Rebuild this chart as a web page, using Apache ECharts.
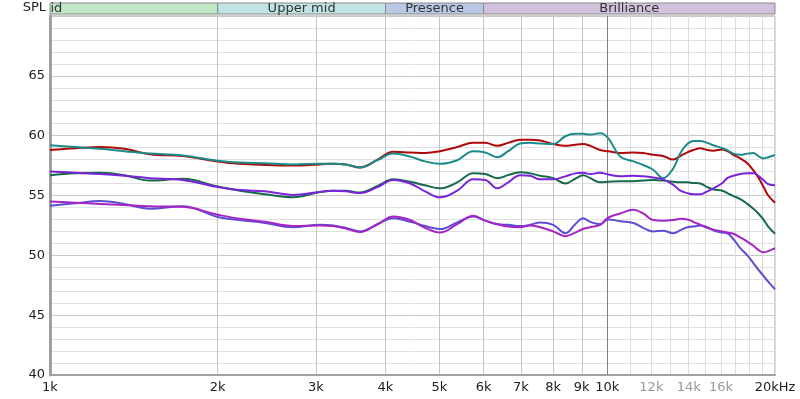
<!DOCTYPE html>
<html>
<head>
<meta charset="utf-8">
<script src="https://cdn.jsdelivr.net/npm/echarts@6/dist/echarts.min.js"></script>
<style>
  html, body { margin: 0; padding: 0; background: #fff; }
  #grafico { width: 800px; height: 399px; }
</style>
</head>
<body>
<div id="grafico"></div>
<script>
// frequencies (Hz) shared by all curves
var freqs = [1000, 1110, 1230, 1360, 1510, 1730, 2000, 2190, 2430, 2730, 3050, 3220, 3390, 3600, 3870,
  4130, 4430, 4710, 5010, 5380, 5750, 6040, 6350, 6640, 6980, 7270, 7580, 8000, 8410, 8760, 9050,
  9320, 9710, 10040, 10550, 11140, 11600, 12090, 12600, 13130, 13530, 13920, 14270, 14690, 15120,
  15500, 16090, 16420, 16840, 17330, 17840, 18290, 18670, 19060, 19450, 20000];

var rojo = [58.8, 58.95, 59.05, 58.9, 58.45, 58.3, 57.85, 57.65, 57.55, 57.5, 57.6, 57.65, 57.6, 57.35, 58.0,
  58.65, 58.6, 58.55, 58.7, 59.05, 59.4, 59.4, 59.15, 59.4, 59.65, 59.65, 59.6, 59.3, 59.15, 59.25, 59.3,
  59.15, 58.8, 58.7, 58.55, 58.6, 58.55, 58.4, 58.3, 58.0, 58.3, 58.6, 58.8, 58.95, 58.8,
  58.75, 58.85, 58.7, 58.4, 58.1, 57.7, 57.1, 56.5, 55.75, 55.0, 54.4];

var teal = [59.2, 59.05, 58.9, 58.7, 58.5, 58.35, 57.9, 57.75, 57.7, 57.6, 57.65, 57.65, 57.6, 57.35, 57.95,
  58.5, 58.25, 57.85, 57.65, 57.95, 58.7, 58.6, 58.2, 58.7, 59.35, 59.4, 59.35, 59.3, 59.95, 60.15, 60.15,
  60.1, 60.2, 59.8, 58.25, 57.85, 57.55, 57.15, 56.45, 57.25, 58.55, 59.3, 59.55, 59.55, 59.4,
  59.2, 58.95, 58.8, 58.5, 58.4, 58.5, 58.55, 58.3, 58.1, 58.2, 58.4];

var verde = [56.7, 56.85, 56.9, 56.7, 56.25, 56.4, 55.75, 55.4, 55.1, 54.85, 55.3, 55.4, 55.4, 55.25, 55.8,
  56.35, 56.15, 55.85, 55.6, 56.1, 56.85, 56.8, 56.45, 56.7, 56.95, 56.85, 56.65, 56.45, 56.0, 56.4, 56.7,
  56.45, 56.1, 56.15, 56.2, 56.2, 56.25, 56.3, 56.25, 56.15, 56.1, 56.1, 56.05, 56.0, 55.7,
  55.5, 55.4, 55.2, 54.95, 54.7, 54.3, 53.9, 53.5, 53.0, 52.4, 51.8];

var roxo = [57.0, 56.9, 56.8, 56.65, 56.45, 56.3, 55.7, 55.45, 55.35, 55.05, 55.3, 55.4, 55.35, 55.2, 55.7,
  56.3, 56.0, 55.35, 54.85, 55.4, 56.35, 56.3, 55.6, 56.1, 56.7, 56.65, 56.35, 56.35, 56.6, 56.85, 56.9,
  56.8, 56.9, 56.75, 56.6, 56.65, 56.6, 56.5, 56.35, 55.9, 55.4, 55.2, 55.1, 55.1, 55.35,
  55.6, 56.05, 56.45, 56.65, 56.8, 56.85, 56.85, 56.65, 56.3, 55.95, 55.85];

var azul = [54.15, 54.35, 54.55, 54.3, 53.9, 54.1, 53.2, 52.95, 52.7, 52.35, 52.55, 52.5, 52.3, 52.0, 52.6,
  53.1, 52.8, 52.45, 52.2, 52.75, 53.25, 52.9, 52.6, 52.55, 52.45, 52.55, 52.75, 52.55, 51.85, 52.6, 53.1,
  52.8, 52.6, 53.0, 52.85, 52.7, 52.3, 52.0, 52.05, 51.85, 52.1, 52.35, 52.4, 52.5, 52.35,
  52.1, 51.9, 51.85, 51.35, 50.6, 50.0, 49.35, 48.8, 48.3, 47.8, 47.15];

var magenta = [54.5, 54.4, 54.3, 54.2, 54.1, 54.05, 53.4, 53.05, 52.8, 52.45, 52.5, 52.45, 52.25, 51.95, 52.6,
  53.25, 52.95, 52.3, 51.9, 52.6, 53.3, 52.9, 52.6, 52.4, 52.35, 52.5, 52.35, 52.0, 51.6, 51.9, 52.2,
  52.35, 52.55, 53.15, 53.5, 53.8, 53.5, 52.95, 52.9, 52.95, 53.05, 53.0, 52.8, 52.55, 52.3,
  52.15, 52.0, 51.9, 51.8, 51.5, 51.15, 50.8, 50.45, 50.25, 50.35, 50.6];

// grid lines and labels of the frequency axis
var gradeX = [1000, 2000, 3000, 4000, 5000, 6000, 7000, 8000, 9000, 10000,
  11000, 12000, 13000, 14000, 15000, 16000, 17000, 18000, 19000, 20000];
var rotulosX = [1000, 2000, 3000, 4000, 5000, 6000, 7000, 8000, 9000, 10000, 12000, 14000, 16000, 20000];
var rotulosCinza = [12000, 14000, 16000];

// frequency bands on top
var bandas = [
  { nome: 'id', de: 1000, ate: 2000, cor: '#c0e8c6' },
  { nome: 'Upper mid', de: 2000, ate: 4000, cor: '#c0e4e4' },
  { nome: 'Presence', de: 4000, ate: 6000, cor: '#b9c9e5' },
  { nome: 'Brilliance', de: 6000, ate: 20000, cor: '#d1c1dd' }
];

var series = [
  { nome: 'a', cor: '#b00808', dados: rojo },
  { nome: 'b', cor: '#1d8a8a', dados: teal },
  { nome: 'c', cor: '#16694a', dados: verde },
  { nome: 'd', cor: '#7a22dc', dados: roxo },
  { nome: 'e', cor: '#5a4fd2', dados: azul },
  { nome: 'f', cor: '#a524c4', dados: magenta }
];

function pares(d) {
  var r = [];
  for (var i = 0; i < freqs.length; i++) r.push([freqs[i], d[i]]);
  return r;
}

var coresX = gradeX.map(function (f) {
  if (f === 10000) return '#808080';
  if (f > 10000) return '#dcdcdc';
  return '#c4c4c4';
});

var myChart = echarts.init(document.getElementById('grafico'));

var option = {
  animation: false,
  textStyle: { fontFamily: 'DejaVu Sans' },
  grid: [
    { left: 50, right: 25, top: 16, bottom: 24, show: true, borderColor: '#a0a0a0', borderWidth: 1, backgroundColor: '#fff' },
    { left: 50, right: 25, top: 3, height: 11, show: false }
  ],
  xAxis: [
    {
      type: 'log', logBase: 10, min: 1000, max: 20000, gridIndex: 0,
      axisLine: { show: true, lineStyle: { color: '#a0a0a0', width: 2 } },
      axisTick: { show: false, customValues: gradeX },
      splitLine: { show: true, lineStyle: { color: coresX, width: 1 } },
      minorSplitLine: { show: false },
      axisLabel: {
        customValues: rotulosX,
        color: '#222', fontSize: 13, margin: 6,
        formatter: function (v) {
          v = Math.round(v);
          if (v === 20000) return '20kHz';
          var t = (v / 1000) + 'k';
          if (rotulosCinza.indexOf(v) >= 0) return '{g|' + t + '}';
          return t;
        },
        rich: { g: { color: '#999', fontSize: 13 } }
      }
    },
    {
      type: 'log', logBase: 10, min: 1000, max: 20000, gridIndex: 1,
      show: false
    }
  ],
  yAxis: [
    {
      type: 'value', min: 40, max: 70, interval: 1, gridIndex: 0,
      name: 'SPL', nameLocation: 'end', nameGap: 8,
      nameTextStyle: { color: '#222', fontSize: 13, align: 'right', verticalAlign: 'middle', padding: [0, 4, 0, 0] },
      axisLine: { show: true, lineStyle: { color: '#a0a0a0', width: 3 } },
      axisTick: { show: false },
      splitLine: { show: true, lineStyle: { color: ['#c8c8c8', '#e0e0e0', '#e0e0e0', '#e0e0e0', '#e0e0e0'], width: 1 } },
      axisLabel: {
        color: '#222', fontSize: 13, margin: 5,
        formatter: function (v) { return (v % 5 === 0 && v < 70) ? String(v) : ''; }
      }
    },
    { type: 'value', min: 0, max: 1, gridIndex: 1, show: false }
  ],
  series: series.map(function (s) {
    return {
      name: s.nome, type: 'line', smooth: 0.4, symbol: 'none',
      xAxisIndex: 0, yAxisIndex: 0,
      lineStyle: { color: s.cor, width: 2 },
      data: pares(s.dados)
    };
  }).concat([{
    type: 'line', xAxisIndex: 1, yAxisIndex: 1, data: [], symbol: 'none',
    markArea: {
      silent: true,
      data: bandas.map(function (b) {
        return [
          { xAxis: b.de, yAxis: 0, name: b.nome, itemStyle: { color: b.cor, borderColor: '#8a8a8a', borderWidth: 1 },
            label: { position: b.nome === 'id' ? 'insideLeft' : 'inside', distance: 1 } },
          { xAxis: b.ate, yAxis: 1 }
        ];
      }),
      label: { color: '#333', fontSize: 13, fontFamily: 'DejaVu Sans' }
    }
  }])
};

myChart.setOption(option);
</script>
</body>
</html>
